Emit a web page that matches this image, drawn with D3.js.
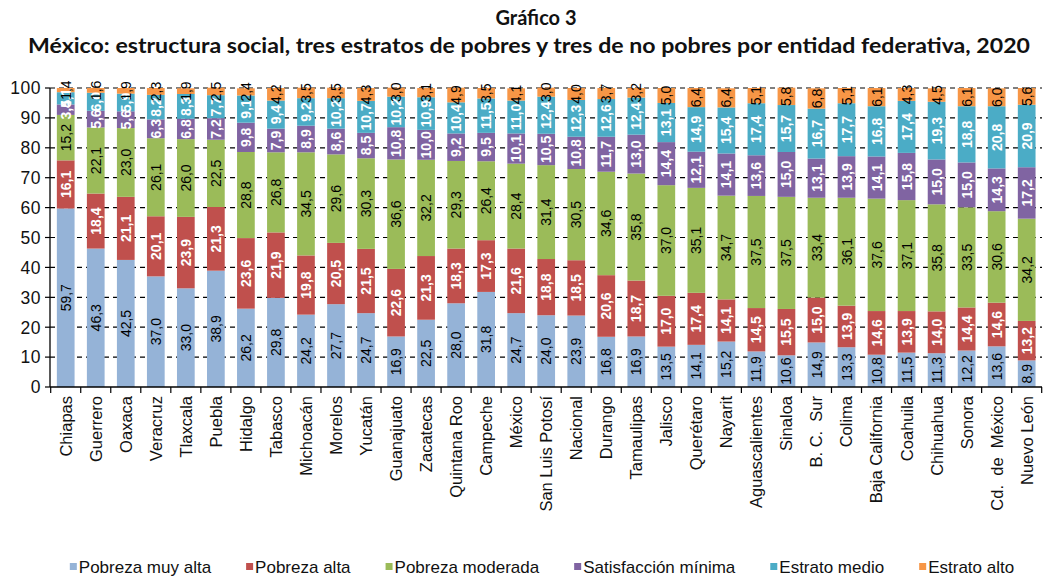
<!DOCTYPE html>
<html>
<head>
<meta charset="utf-8">
<script src="https://cdn.jsdelivr.net/npm/d3@7"></script>
<style>
  html, body { margin: 0; padding: 0; background: #fff; }
  svg { display: block; }
</style>
</head>
<body>
<svg id="chart" width="1043" height="579"></svg>
<script>
const categories = ["Chiapas","Guerrero","Oaxaca","Veracruz","Tlaxcala","Puebla","Hidalgo","Tabasco","Michoacán","Morelos","Yucatán","Guanajuato","Zacatecas","Quintana Roo","Campeche","México","San Luis Potosí","Nacional","Durango","Tamaulipas","Jalisco","Querétaro","Nayarit","Aguascalientes","Sinaloa","B. C.  Sur","Colima","Baja California","Coahuila","Chihuahua","Sonora","Cd.  de  México","Nuevo León"];

const pobrezaMuyAlta   = [59.7,46.3,42.5,37.0,33.0,38.9,26.2,29.8,24.2,27.7,24.7,16.9,22.5,28.0,31.8,24.7,24.0,23.9,16.8,16.9,13.5,14.1,15.2,11.9,10.6,14.9,13.3,10.8,11.5,11.3,12.2,13.6,8.9];
const pobrezaAlta      = [16.1,18.4,21.1,20.1,23.9,21.3,23.6,21.9,19.8,20.5,21.5,22.6,21.3,18.3,17.3,21.6,18.8,18.5,20.6,18.7,17.0,17.4,14.1,14.5,15.5,15.0,13.9,14.6,13.9,14.0,14.4,14.6,13.2];
const pobrezaModerada  = [15.2,22.1,23.0,26.1,26.0,22.5,28.8,26.8,34.5,29.6,30.3,36.6,32.2,29.3,26.4,28.4,31.4,30.5,34.6,35.8,37.0,35.1,34.7,37.5,37.5,33.4,36.1,37.6,37.1,35.8,33.5,30.6,34.2];
const satisfaccionMin  = [3.5,5.6,5.6,6.3,6.8,7.2,9.8,7.9,8.9,8.6,8.5,10.8,10.0,9.2,9.5,10.1,10.5,10.8,11.7,13.0,14.4,12.1,14.1,13.6,15.0,13.1,13.9,14.1,15.8,15.0,15.0,14.3,17.2];
const estratoMedio     = [4.1,6.0,5.9,8.2,8.3,7.7,9.1,9.4,9.2,10.2,10.7,10.2,10.9,10.4,11.5,11.0,12.4,12.3,12.6,12.4,13.1,14.9,15.4,17.4,15.7,16.7,17.7,16.8,17.4,19.3,18.8,20.8,20.9];
const estratoAlto      = [1.4,1.6,1.9,2.3,1.9,2.5,2.4,4.2,3.5,3.5,4.3,3.0,3.1,4.9,3.5,4.1,3.0,4.0,3.7,3.2,5.0,6.4,6.4,5.1,5.8,6.8,5.1,6.1,4.3,4.5,6.1,6.0,5.6];

const seriesNames = ["Pobreza muy alta","Pobreza alta","Pobreza moderada","Satisfacción mínima","Estrato medio","Estrato alto"];
const seriesValues = [pobrezaMuyAlta,pobrezaAlta,pobrezaModerada,satisfaccionMin,estratoMedio,estratoAlto];
const seriesColors = ["#95B3D7","#C0504D","#9BBB59","#8064A2","#4BACC6","#F79646"];
const labelColors  = ["#000","#fff","#000","#fff","#fff","#000"];
const labelWeights = ["normal","bold","normal","bold","bold","normal"];
const yTicks = [0,10,20,30,40,50,60,70,80,90,100];
const titleLines = ["Gráfico 3","México: estructura social, tres estratos de pobres y tres de no pobres por entidad federativa, 2020"];

const svg = d3.select("#chart");
const FONT = "'Liberation Sans', Arial, sans-serif";

const x = d3.scaleBand().domain(categories).range([50.7, 1041.7]).padding(0);
const y = d3.scaleLinear().domain([0, 100]).range([387, 88]);
const barW = x.bandwidth() * 0.59;

// title
svg.append("text").attr("x", 536).attr("y", 25).attr("text-anchor", "middle")
  .style("font-family", "Lato, 'Open Sans', sans-serif").style("font-weight", "bold").style("font-size", "20px")
  .attr("fill", "#111").text(titleLines[0]);
svg.append("text").attr("x", 529).attr("y", 53).attr("text-anchor", "middle")
  .attr("textLength", 1002).attr("lengthAdjust", "spacingAndGlyphs")
  .style("font-family", "Lato, 'Open Sans', sans-serif").style("font-weight", "bold").style("font-size", "20px")
  .attr("fill", "#111").text(titleLines[1]);

// gridlines
svg.append("g").selectAll("line").data(yTicks.filter(t => t > 0)).join("line")
  .attr("x1", 50).attr("x2", 1042)
  .attr("y1", d => y(d)).attr("y2", d => y(d))
  .attr("stroke", "#000").attr("stroke-width", 1.2).attr("stroke-dasharray", "5,4");

// stacked data
const stackData = categories.map((c, i) => {
  const o = { cat: c };
  seriesNames.forEach((s, j) => { o[s] = seriesValues[j][i]; });
  return o;
});
const stack = d3.stack().keys(seriesNames)(stackData);

const gBars = svg.append("g");
stack.forEach((layer, j) => {
  gBars.append("g").attr("fill", seriesColors[j]).selectAll("rect").data(layer).join("rect")
    .attr("x", d => x(d.data.cat) + (x.bandwidth() - barW) / 2)
    .attr("width", barW)
    .attr("y", d => y(d[1]))
    .attr("height", d => y(d[0]) - y(d[1]));
});

// data labels
const fmt = v => v.toFixed(1).replace(".", ",");
stack.forEach((layer, j) => {
  svg.append("g").selectAll("text").data(layer).join("text")
    .attr("transform", d => {
      const cx = x(d.data.cat) + x.bandwidth() / 2;
      const cy = (y(d[0]) + y(d[1])) / 2;
      return `translate(${cx},${cy}) rotate(-90)`;
    })
    .attr("text-anchor", "middle").attr("dy", "0.36em")
    .style("font-family", FONT).style("font-size", "14px").style("font-weight", labelWeights[j])
    .attr("fill", labelColors[j])
    .text(d => fmt(d[1] - d[0]));
});

// axes
svg.append("line").attr("x1", 50).attr("x2", 50).attr("y1", y(100)).attr("y2", y(0)).attr("stroke", "#000").attr("stroke-width", 1.3);
svg.append("line").attr("x1", 50).attr("x2", 1042).attr("y1", y(0)).attr("y2", y(0)).attr("stroke", "#000").attr("stroke-width", 1.3);
svg.append("g").selectAll("line").data(yTicks).join("line")
  .attr("x1", 45).attr("x2", 50).attr("y1", d => y(d)).attr("y2", d => y(d)).attr("stroke", "#000").attr("stroke-width", 1.2);
svg.append("g").selectAll("text").data(yTicks).join("text")
  .attr("x", 41).attr("y", d => y(d)).attr("dy", "0.36em").attr("text-anchor", "end")
  .style("font-family", FONT).style("font-size", "17.5px").style("letter-spacing", "0.5px").attr("fill", "#111")
  .text(d => d);

// x ticks at band boundaries
const bounds = categories.map(c => x(c)).concat([x(categories[categories.length - 1]) + x.bandwidth()]);
svg.append("g").selectAll("line").data(bounds).join("line")
  .attr("x1", d => d).attr("x2", d => d).attr("y1", y(0)).attr("y2", y(0) + 6)
  .attr("stroke", "#000").attr("stroke-width", 1.2);

svg.append("g").selectAll("text").data(categories).join("text")
  .attr("transform", c => `translate(${x(c) + x.bandwidth() / 2},396) rotate(-90)`)
  .attr("text-anchor", "end").attr("dy", "0.36em")
  .style("font-family", FONT).style("font-size", "16.5px").attr("fill", "#111")
  .style("white-space", "pre").attr("xml:space", "preserve")
  .text(c => c);

// legend
const leg = svg.append("g");
const items = leg.selectAll("g").data(seriesNames).join("g");
items.append("rect").attr("width", 7).attr("height", 7).attr("y", -4).attr("fill", (d, i) => seriesColors[i]);
items.append("text").attr("x", 9).attr("dy", "0.36em")
  .style("font-family", FONT).style("font-size", "17px").attr("fill", "#111").text(d => d);
const gap = 35;
const widths = [];
items.each(function() { widths.push(9 + this.querySelector("text").getComputedTextLength()); });
const total = d3.sum(widths) + gap * (widths.length - 1);
let start = 542 - total / 2;
items.attr("transform", (d, i) => {
  const t = `translate(${start},567)`;
  start += widths[i] + gap;
  return t;
});
</script>
</body>
</html>
